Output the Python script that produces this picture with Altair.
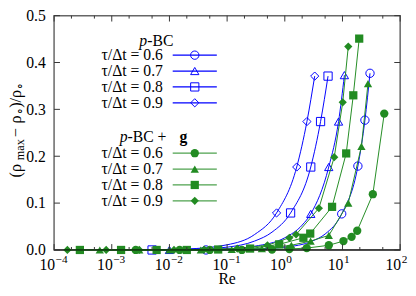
import altair as alt
import pandas as pd

# ---------------- data ----------------
taus = ["0.6", "0.7", "0.8", "0.9"]
shapes = ["circle", "triangle-up", "square", "diamond"]

# p-BC (blue, open markers)
b06_re = [0.043, 9.7, 18.5, 24.5, 30.0]
b06_y = [0.0, 0.077, 0.179, 0.277, 0.377]
b07_re = [0.010, 2.82, 5.78, 8.55, 10.8]
b07_y = [0.0, 0.077, 0.177, 0.274, 0.373]
b08_re = [0.005, 1.26, 2.82, 4.17, 5.62]
b08_y = [0.0, 0.079, 0.177, 0.274, 0.371]
b09_re = [0.72, 1.61, 2.42, 3.30]
b09_y = [0.079, 0.177, 0.274, 0.371]

# p-BC curves
c06_re = [0.043, 0.3, 1.0, 3.0, 5.0, 9.7, 18.5, 24.5, 30.0]
c06_y = [0.0, 0.002, 0.006, 0.019, 0.034, 0.077, 0.179, 0.277, 0.377]
c07_re = [0.010, 0.1, 0.3, 1.0, 2.0, 2.82, 5.78, 8.55, 10.8]
c07_y = [0.0, 0.0025, 0.008, 0.026, 0.053, 0.077, 0.177, 0.274, 0.373]
c08_re = [0.005, 0.03, 0.1, 0.3, 0.6, 1.26, 2.82, 4.17, 5.62]
c08_y = [0.0, 0.002, 0.006, 0.019, 0.038, 0.079, 0.177, 0.274, 0.371]
c09_re = [0.02, 0.1, 0.3, 0.72, 1.61, 2.42, 3.30]
c09_y = [0.002, 0.011, 0.033, 0.079, 0.177, 0.274, 0.371]

# p-BC + g (green, filled markers)
g06_re = [0.0026, 0.015, 0.05, 0.18, 0.6, 1.2, 2.4, 5.8, 10.4, 14.4, 18.0, 33.6, 53.0]
g06_y = [0.0, 0.0, 0.0, 0.0, 0.001, 0.002, 0.004, 0.010, 0.019, 0.028, 0.041, 0.119, 0.291]
g07_re = [0.00062, 0.003, 0.01, 0.035, 0.12, 0.4, 1.3, 2.8, 5.8, 12.6, 21.3, 27.7]
g07_y = [0.0, 0.0, 0.0, 0.0, 0.001, 0.003, 0.010, 0.019, 0.031, 0.100, 0.221, 0.355]
g08_re = [0.00028, 0.00145, 0.006, 0.02, 0.07, 0.25, 0.8, 2.1, 2.76, 6.6, 11.6, 15.4, 19.5]
g08_y = [0.0, 0.0, 0.0, 0.0, 0.001, 0.003, 0.012, 0.026, 0.035, 0.092, 0.206, 0.330, 0.451]
g09_re = [0.00017, 0.0008, 0.003, 0.012, 0.04, 0.15, 0.5, 1.2, 1.57, 3.9, 7.2, 10.1, 12.6]
g09_y = [0.0, 0.0, 0.0, 0.0, 0.001, 0.003, 0.010, 0.026, 0.033, 0.089, 0.198, 0.315, 0.434]

x_tick_vals = [1e-4, 1e-3, 1e-2, 1e-1, 1, 10, 100]
x_tick_base = ["10"] * 7
x_tick_exp = ["−4", "−3", "−2", "−1", "0", "1", "2"]
x_minor_vals = [m * 10.0 ** e for e in range(-4, 2) for m in (2, 5)]
y_tick_vals = [0.0, 0.1, 0.2, 0.3, 0.4, 0.5]

legend_labels = ["τ/Δt  =  0.6", "τ/Δt  =  0.7", "τ/Δt  =  0.8", "τ/Δt  =  0.9"]

# ---------------- frames ----------------
def frame(res, ys):
    rows = []
    for t, r, y in zip(taus, res, ys):
        for a, b in zip(r, y):
            rows.append({"Re": a, "y": b, "tau": t})
    return pd.DataFrame(rows)

blue_pts = frame([b06_re, b07_re, b08_re, b09_re], [b06_y, b07_y, b08_y, b09_y])
blue_curve = frame([c06_re, c07_re, c08_re, c09_re], [c06_y, c07_y, c08_y, c09_y])
green_pts = frame([g06_re, g07_re, g08_re, g09_re], [g06_y, g07_y, g08_y, g09_y])

BLUE = "#0000ff"
GREEN = "#228b22"
FONT = "Liberation Serif"
TICK = "#333"

W, H = 353, 239

xs = alt.Scale(type="log", domain=[1e-4, 1e2], nice=False)
ys = alt.Scale(domain=[0, 0.5], nice=False, zero=False)

y_axis = alt.Axis(values=y_tick_vals, format=".1f", ticks=False, domain=False, grid=False,
                  labelFont=FONT, labelFontSize=16, labelPadding=9, labelColor="#000", title=None)

X = alt.X("Re:Q", scale=xs, axis=None)
Y = alt.Y("y:Q", scale=ys, axis=y_axis)

shape_enc = alt.Shape("tau:N", scale=alt.Scale(domain=taus, range=shapes), legend=None)

blue_line = alt.Chart(blue_curve).mark_line(color=BLUE, strokeWidth=1, interpolate="monotone").encode(
    x=X, y=Y, detail="tau:N")
blue_mark = alt.Chart(blue_pts).mark_point(filled=False, color=BLUE, strokeWidth=1, opacity=1).encode(
    x=X, y=Y, shape=shape_enc,
    size=alt.Size("tau:N", scale=alt.Scale(domain=taus, range=[72, 70, 80, 72]), legend=None))
green_line = alt.Chart(green_pts).mark_line(color=GREEN, strokeWidth=1).encode(
    x=X, y=Y, detail="tau:N")
green_mark = alt.Chart(green_pts).mark_point(filled=True, color=GREEN, opacity=1).encode(
    x=X, y=Y, shape=shape_enc,
    size=alt.Size("tau:N", scale=alt.Scale(domain=taus, range=[72, 70, 76, 50]), legend=None))

zero_line = alt.Chart(pd.DataFrame({"y": [0.0]})).mark_rule(color="#000", strokeWidth=1).encode(y=Y)

# inward ticks on all four sides
maj_df = pd.DataFrame({"Re": x_tick_vals})
min_df = pd.DataFrame({"Re": x_minor_vals})
yt_df = pd.DataFrame({"y": y_tick_vals})
ticks = [
    alt.Chart(maj_df).mark_rule(color=TICK).encode(x=X, y=alt.value(H), y2=alt.value(H - 6)),
    alt.Chart(min_df).mark_rule(color=TICK).encode(x=X, y=alt.value(H), y2=alt.value(H - 3)),
    alt.Chart(maj_df).mark_rule(color=TICK).encode(x=X, y=alt.value(0), y2=alt.value(6)),
    alt.Chart(min_df).mark_rule(color=TICK).encode(x=X, y=alt.value(0), y2=alt.value(3)),
    alt.Chart(yt_df).mark_rule(color=TICK).encode(y=Y, x=alt.value(0), x2=alt.value(6)),
    alt.Chart(yt_df).mark_rule(color=TICK).encode(y=Y, x=alt.value(W), x2=alt.value(W - 6)),
]

# x tick labels as 10 with raised exponent
xl_df = pd.DataFrame({"Re": x_tick_vals, "b": x_tick_base, "e": x_tick_exp})
xlabels = [
    alt.Chart(xl_df).mark_text(align="right", baseline="alphabetic", font=FONT, fontSize=16,
                               dx=1, color="#000").encode(x=X, y=alt.value(H + 20), text="b:N"),
    alt.Chart(xl_df).mark_text(align="left", baseline="alphabetic", font=FONT, fontSize=11.5,
                               dx=1.5, color="#000").encode(x=X, y=alt.value(H + 13), text="e:N"),
]

def label(text, x, y, align="left", style="normal", weight="normal", size=16, angle=0,
          baseline="middle"):
    kw = dict(align=align, baseline=baseline, font=FONT, fontSize=size, fontStyle=style,
              fontWeight=weight, color="#000")
    if angle:
        kw["angle"] = angle
    return alt.Chart(pd.DataFrame({"t": [text]})).mark_text(**kw).encode(
        x=alt.value(x), y=alt.value(y), text="t:N")

# axis titles
x_title = [label("Re", W / 2, H + 35, align="center", baseline="alphabetic")]
TB, SB = -34, -30.5   # rotated baselines (main, subscript)
y_title = [
    label("(ρ", TB, 165, angle=270, baseline="alphabetic", size=16.5),
    label("max", SB, 147.5, angle=270, baseline="alphabetic", size=12.5),
    label("−", TB, 124, angle=270, baseline="alphabetic", size=16.5),
    label("ρ", TB, 110, angle=270, baseline="alphabetic", size=16.5),
    label("∘", SB, 101.5, angle=270, baseline="alphabetic", size=12),
    label(")/ρ", TB, 94, angle=270, baseline="alphabetic", size=16.5),
    label("∘", SB, 76, angle=270, baseline="alphabetic", size=12),
]

# ---------------- legend ----------------
def legend_block(color, filled, y0, sizes):
    df = pd.DataFrame({"label": legend_labels, "tau": taus, "i": list(range(4))})
    base = alt.Chart(df).transform_calculate(py=f"{y0} + datum.i * 16.2")
    py = alt.Y("py:Q", scale=None)
    txt = base.mark_text(align="right", baseline="middle", font=FONT, fontSize=16, color="#000").encode(
        x=alt.value(111), y=py, text="label:N")
    ln = base.mark_rule(color=color, strokeWidth=1.2, opacity=0.8 if filled else 1).encode(
        x=alt.value(121), x2=alt.value(166), y=py)
    mk = base.mark_point(filled=filled, color=color, strokeWidth=1, opacity=1).encode(
        x=alt.value(143.5), y=py, shape=shape_enc,
        size=alt.Size("tau:N", scale=alt.Scale(domain=taus, range=sizes), legend=None))
    return [txt, ln, mk]

titles = [
    label("p", 95, 26, align="right", style="italic"),
    label("-BC", 95, 26),
    label("p", 75, 123.5, align="right", style="italic"),
    label("-BC", 75, 123.5),
    label("+", 110, 123.5, align="center"),
    label("g", 128, 123.5, weight="bold"),
]

layers = ([blue_line, blue_mark, green_line, green_mark, zero_line]
          + ticks + xlabels + x_title + y_title
          + legend_block(BLUE, False, 40.3, [72, 70, 80, 72])
          + legend_block(GREEN, True, 140.3, [72, 70, 76, 50])
          + titles)

chart = alt.layer(*layers).resolve_scale(size="independent").properties(
    width=W, height=H,
    autosize=alt.AutoSizeParams(type="none"),
    padding={"left": 47, "top": 5, "right": 8, "bottom": 36},
).configure_view(stroke="#666", strokeWidth=1.5)

chart.save("out.html", embed_options={"renderer": "svg", "actions": False})
